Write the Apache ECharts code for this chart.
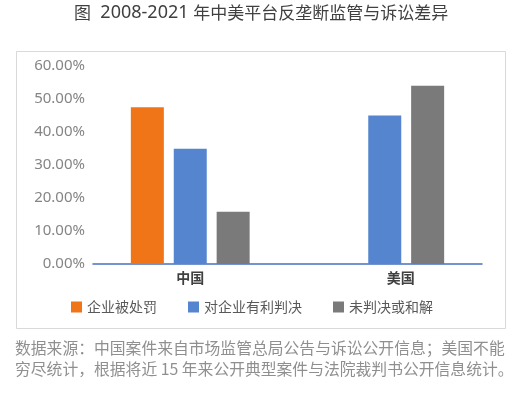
<!DOCTYPE html>
<html>
<head>
<meta charset="utf-8">
<script src="https://cdn.jsdelivr.net/npm/echarts@6/dist/echarts.min.js"></script>
<style>
  html, body { margin: 0; padding: 0; background: #fff; }
  #chart { width: 528px; height: 399px; }
</style>
</head>
<body>
<div id="chart"></div>
<script>
const categories = ["中国", "美国"];
const punished = [47.5, null];      // 企业被处罚
const favorable = [34.9, 45];       // 对企业有利判决
const pending = [15.8, 54];         // 未判决或和解
const yTicks = [0, 10, 20, 30, 40, 50, 60];

const font = "'Noto Sans CJK SC', 'Noto Sans', sans-serif";

const chart = echarts.init(document.getElementById("chart"));

const option = {
  backgroundColor: "#fff",
  animation: false,
  textStyle: { fontFamily: font },
  graphic: [
    {
      type: "text",
      left: 74,
      top: 4,
      style: {
        text: "{a|图}{b|  2008-2021 }{a|年中美平台反垄断监管与诉讼差异}",
        rich: {
          a: { fontSize: 17, fill: "#404040", fontFamily: font },
          b: { fontSize: 18, fill: "#404040", fontFamily: "'Noto Sans', sans-serif" }
        }
      }
    },
    {
      type: "rect",
      shape: { x: 16.5, y: 51.5, width: 489, height: 277 },
      style: { fill: "none", stroke: "#d9d9d9", lineWidth: 1 },
      z: -1
    },
    {
      type: "text",
      left: 15,
      top: 337,
      style: {
        text: "数据来源：中国案件来自市场监管总局公告与诉讼公开信息；美国不能\n穷尽统计，根据将近 15 年来公开典型案件与法院裁判书公开信息统计。",
        fontSize: 15.8,
        lineHeight: 21,
        fill: "#8f8f8f",
        fontFamily: font
      }
    }
  ],
  legend: {
    left: 66,
    top: 295,
    itemWidth: 11,
    itemHeight: 11,
    itemGap: 31,
    icon: "rect",
    textStyle: { fontSize: 14, color: "#595959", fontFamily: font },
    data: ["企业被处罚", "对企业有利判决", "未判决或和解"]
  },
  grid: { left: 93, right: 46, top: 66, bottom: 135 },
  xAxis: {
    type: "category",
    data: categories,
    axisLine: { lineStyle: { color: "#4472c4", width: 1.5 } },
    axisTick: { show: false },
    axisLabel: {
      margin: 7,
      formatter: function (v) {
        return v === "美国" ? "{us|" + v + "}" : "{cn|" + v + "}";
      },
      rich: {
        cn: { fontSize: 14, color: "#404040", fontWeight: "bold", fontFamily: font },
        us: { fontSize: 14, color: "#404040", fontWeight: "bold", fontFamily: font, padding: [0, 0, 0, 32] }
      }
    }
  },
  yAxis: {
    type: "value",
    min: yTicks[0],
    max: yTicks[yTicks.length - 1],
    interval: 10,
    axisLine: { show: false },
    axisTick: { show: false },
    splitLine: { show: false },
    axisLabel: {
      margin: 8,
      fontSize: 15,
      color: "#858585",
      fontFamily: "'Noto Sans', sans-serif",
      formatter: function (v) { return v.toFixed(2) + "%"; }
    }
  },
  series: [
    {
      name: "企业被处罚",
      type: "bar",
      data: punished,
      barWidth: 33,
      barGap: "30%",
      itemStyle: { color: "#f07518" }
    },
    {
      name: "对企业有利判决",
      type: "bar",
      data: favorable,
      barWidth: 33,
      barGap: "30%",
      itemStyle: { color: "#5585cf" }
    },
    {
      name: "未判决或和解",
      type: "bar",
      data: pending,
      barWidth: 33,
      barGap: "30%",
      itemStyle: { color: "#7a7a7a" }
    }
  ]
};

chart.setOption(option);
</script>
</body>
</html>
